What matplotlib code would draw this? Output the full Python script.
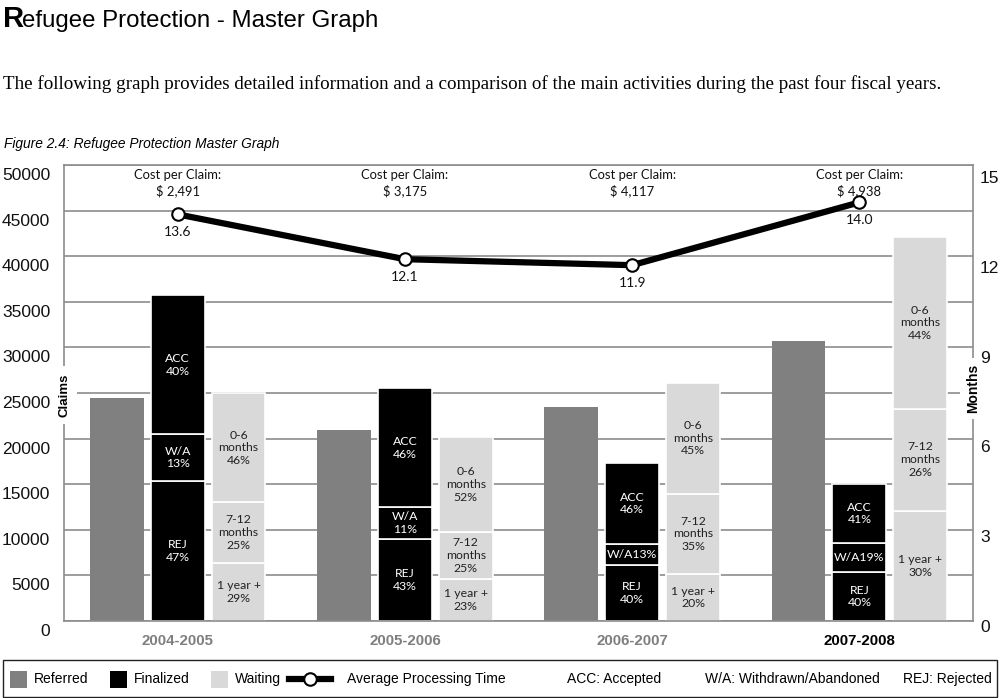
import matplotlib
matplotlib.use("Agg")
import matplotlib.pyplot as plt
from matplotlib.patches import Rectangle
from matplotlib.lines import Line2D
import numpy as np

# ---------------- data ----------------
years = ['2004-2005', '2005-2006', '2006-2007', '2007-2008']
referred = [24500, 20900, 23500, 30700]
# finalized claims, stacked bottom -> top
fin_rej = [15400, 9000, 6150, 5400]
fin_wa = [5050, 3500, 2300, 3200]
fin_acc = [15250, 13000, 8900, 6400]
# waiting claims, stacked bottom -> top
wait_1yr = [6400, 4600, 5150, 12100]
wait_7_12 = [6600, 5150, 8800, 11200]
wait_0_6 = [12000, 10450, 12200, 18800]
# percentage labels
acc_labels = ['ACC\n40%', 'ACC\n46%', 'ACC\n46%', 'ACC\n41%']
wa_labels = ['W/A\n13%', 'W/A\n11%', 'W/A13%', 'W/A19%']
rej_labels = ['REJ\n47%', 'REJ\n43%', 'REJ\n40%', 'REJ\n40%']
w06_labels = ['0-6\nmonths\n46%', '0-6\nmonths\n52%', '0-6\nmonths\n45%', '0-6\nmonths\n44%']
w712_labels = ['7-12\nmonths\n25%', '7-12\nmonths\n25%', '7-12\nmonths\n35%', '7-12\nmonths\n26%']
w1y_labels = ['1 year +\n29%', '1 year +\n23%', '1 year +\n20%', '1 year +\n30%']
avg_months = [13.6, 12.1, 11.9, 14.0]
cost_per_claim = ['$ 2,491', '$ 3,175', '$ 4,117', '$ 4,938']
left_ticks = list(range(0, 50001, 5000))
right_ticks = [0, 3, 6, 9, 12, 15]

# ---------------- style ----------------
C_REF = '#808080'
C_FIN = '#000000'
C_WAIT = '#d9d9d9'
C_GRID = '#8c8c8c'
SANS = ['Liberation Sans', 'DejaVu Sans']
BARF = ['Lato', 'DejaVu Sans']

W, H = 1000, 698
fig = plt.figure(figsize=(W / 100, H / 100), dpi=100)

def fx(px):
    return px / W

def fy(py):
    return 1 - py / H

# ---------------- header texts ----------------
fig.text(fx(3), fy(27), 'R', fontsize=21, fontweight='bold', family=SANS, va='baseline', ha='left')
fig.text(fx(22.5), fy(27), 'efugee Protection - Master Graph', fontsize=17.3, family=SANS,
         va='baseline', ha='left')
fig.text(fx(3), fy(89), 'The following graph provides detailed information and a comparison of the main '
         'activities during the past four fiscal years.', fontsize=13.7,
         family=['Liberation Serif', 'DejaVu Serif'], va='baseline', ha='left')
fig.text(fx(4), fy(148), 'Figure 2.4: Refugee Protection Master Graph', fontsize=9.9, style='italic',
         family=SANS, va='baseline', ha='left')

# ---------------- main axes ----------------
L, R, T, B = 64, 973, 165, 621
ax = fig.add_axes([fx(L), fy(B), fx(R - L), (B - T) / H])
x = np.arange(len(years))
off = 0.268
bw = 0.237

ax.set_xlim(-0.5, len(years) - 0.5)
ax.set_ylim(0, 50000)
ax.set_yticks(left_ticks)
ax.yaxis.grid(True, color=C_GRID, lw=1.2)
ax.set_axisbelow(True)
ax.tick_params(axis='both', length=0, labelleft=False, labelbottom=False)
ax.set_xticks([])
for s in ['top', 'left', 'right', 'bottom']:
    ax.spines[s].set_color(C_GRID)
    ax.spines[s].set_linewidth(1.2)

# bars
ax.bar(x - off, referred, bw, color=C_REF, zorder=2)
b1 = ax.bar(x, fin_rej, bw, color=C_FIN, edgecolor='white', lw=1.2, zorder=2)
bot = np.array(fin_rej)
b2 = ax.bar(x, fin_wa, bw, bottom=bot, color=C_FIN, edgecolor='white', lw=1.2, zorder=2)
bot2 = bot + np.array(fin_wa)
b3 = ax.bar(x, fin_acc, bw, bottom=bot2, color=C_FIN, edgecolor='white', lw=1.2, zorder=2)

w1 = ax.bar(x + off, wait_1yr, bw, color=C_WAIT, edgecolor='white', lw=1.2, zorder=2)
wb = np.array(wait_1yr)
w2 = ax.bar(x + off, wait_7_12, bw, bottom=wb, color=C_WAIT, edgecolor='white', lw=1.2, zorder=2)
wb2 = wb + np.array(wait_7_12)
w3 = ax.bar(x + off, wait_0_6, bw, bottom=wb2, color=C_WAIT, edgecolor='white', lw=1.2, zorder=2)

def label_segments(bars, labels, color):
    for rect, lab in zip(bars, labels):
        cx = rect.get_x() + rect.get_width() / 2
        cy = rect.get_y() + rect.get_height() / 2
        ax.text(cx, cy, lab, ha='center', va='center', color=color, fontsize=8.8,
                family=BARF, linespacing=1.18, zorder=3)

label_segments(b1, rej_labels, 'white')
label_segments(b2, wa_labels, 'white')
label_segments(b3, acc_labels, 'white')
label_segments(w1, w1y_labels, '#222222')
label_segments(w2, w712_labels, '#222222')
label_segments(w3, w06_labels, '#222222')

# left tick labels (placed slightly below the gridlines, like the reference)
for v in left_ticks:
    ax.annotate(f'{v}', xy=(0, v), xycoords=('axes fraction', 'data'), xytext=(-10, -7.5),
                textcoords='offset points', ha='right', va='center', fontsize=12.5, family=SANS,
                color='#111111', annotation_clip=False)

# category labels
for i, yr in enumerate(years):
    ax.annotate(yr, xy=(x[i], 0), xycoords='data', xytext=(0, -14.5), textcoords='offset points',
                ha='center', va='center', fontsize=10.8, fontweight='bold', family=SANS,
                color='#000000' if i == len(years) - 1 else '#7f7f7f', annotation_clip=False)

# axis titles
ax.text(0, 0.496, 'Claims', transform=ax.transAxes, rotation=90, ha='center', va='center',
        fontsize=9.5, fontweight='bold', family=SANS,
        bbox=dict(boxstyle='square,pad=0.55', fc='white', ec='none'), zorder=5)
ax.text(1, 0.51, 'Months', transform=ax.transAxes, rotation=90, ha='center', va='center',
        fontsize=10, fontweight='bold', family=SANS,
        bbox=dict(boxstyle='square,pad=0.45', fc='white', ec='none'), zorder=5)

# ---------------- right axis / processing time ----------------
ax2 = ax.twinx()
ax2.set_ylim(0, 15.25)
ax2.set_yticks(right_ticks)
ax2.tick_params(length=0, labelright=False)
for s in ax2.spines.values():
    s.set_visible(False)
for v in right_ticks:
    ax2.annotate(f'{v}', xy=(1, v), xycoords=('axes fraction', 'data'), xytext=(5, -4.5),
                 textcoords='offset points', ha='left', va='center', fontsize=12.5, family=SANS,
                 color='#111111', annotation_clip=False)

ax2.plot(x, avg_months, color='black', lw=4.5, marker='o', ms=9, mfc='white', mec='black',
         mew=1.5, zorder=4)
for i, v in enumerate(avg_months):
    ax2.annotate(f'{v:.1f}', xy=(x[i], v), xytext=(0, -12.5), textcoords='offset points',
                 ha='center', va='center', fontsize=10, family=BARF, color='#111111')
    ax2.text(x[i], 0.961, 'Cost per Claim:\n' + cost_per_claim[i],
             transform=ax2.get_xaxis_transform(), ha='center', va='center', fontsize=9.4,
             family=BARF, linespacing=1.28, color='#111111')

# ---------------- legend ----------------
fig.patches.append(Rectangle((fx(3), fy(697)), fx(994), (697 - 660) / H, transform=fig.transFigure,
                             fill=False, ec='#222222', lw=1.0))
ly = fy(679)
sq = 17
for px0, col, lab in [(10, C_REF, 'Referred'), (110, C_FIN, 'Finalized'), (211, C_WAIT, 'Waiting')]:
    fig.patches.append(Rectangle((fx(px0), fy(679 + sq / 2)), fx(sq), sq / H, transform=fig.transFigure,
                                 fc=col, ec='none'))
    fig.text(fx(px0 + 24), ly, lab, fontsize=10, family=SANS, va='center', ha='left')
fig.lines.append(Line2D([fx(289), fx(331)], [ly, ly], transform=fig.transFigure, color='black', lw=4.5))
fig.lines.append(Line2D([fx(310)], [ly], transform=fig.transFigure, marker='o', ms=9, mfc='white',
                        mec='black', mew=1.5, lw=0))
fig.text(fx(347), ly, 'Average Processing Time', fontsize=10, family=SANS, va='center', ha='left')
fig.text(fx(567), ly, 'ACC: Accepted', fontsize=10, family=SANS, va='center', ha='left')
fig.text(fx(705), ly, 'W/A: Withdrawn/Abandoned', fontsize=10, family=SANS, va='center', ha='left')
fig.text(fx(903), ly, 'REJ: Rejected', fontsize=10, family=SANS, va='center', ha='left')

fig.savefig('out.png', dpi=100, facecolor='white')
